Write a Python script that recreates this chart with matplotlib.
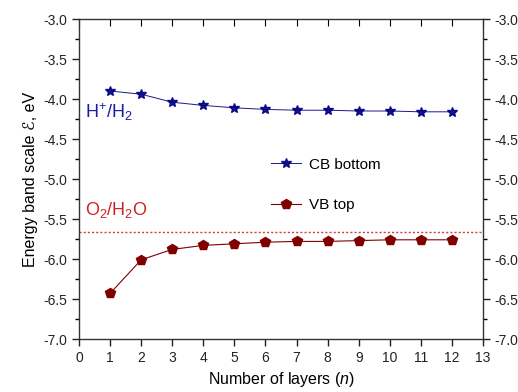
import numpy as np
import matplotlib
matplotlib.use('Agg')
import matplotlib.pyplot as plt

plt.rcParams['font.family'] = ['Liberation Sans', 'DejaVu Sans']
plt.rcParams['mathtext.fontset'] = 'custom'
plt.rcParams['mathtext.rm'] = 'Liberation Sans'
plt.rcParams['mathtext.it'] = 'Liberation Sans:italic'

# data
layers = [1, 2, 3, 4, 5, 6, 7, 8, 9, 10, 11, 12]
cb_bottom = [-3.90, -3.94, -4.04, -4.08, -4.11, -4.13, -4.14, -4.14, -4.15, -4.15, -4.16, -4.16]
vb_top = [-6.43, -6.01, -5.88, -5.83, -5.81, -5.79, -5.78, -5.78, -5.77, -5.76, -5.76, -5.76]
o2_level = -5.66

fig = plt.figure(figsize=(5.18, 3.92), dpi=100)
ax = fig.add_axes([0.1525, 0.1352, 0.78, 0.8163])

ax.plot(layers, cb_bottom, color='#000080', lw=0.7, marker='*', ms=7, alpha=0.9,
        label='CB bottom')
ax.plot(layers, vb_top, color='#800000', lw=0.8, marker='p', ms=7,
        label='VB top')
ax.axhline(o2_level, color='#d04040', lw=1.0, ls=(0, (1.5, 1.5)))

ax.text(0.2, -4.17, r'H$^{+}$/H$_{2}$', color='#1a1aa8', fontsize=13, va='center')
ax.text(0.2, -5.39, r'O$_{2}$/H$_{2}$O', color='#cc2222', fontsize=13, va='center')

ax.set_xlim(0, 13)
ax.set_ylim(-7.0, -3.0)
ax.set_xticks(np.arange(0, 14, 1))
ax.set_yticks(np.arange(-7.0, -2.9, 0.5))
ax.set_yticks(np.arange(-7.0, -2.9, 0.25), minor=True)
ax.yaxis.set_major_formatter(matplotlib.ticker.FormatStrFormatter('%.1f'))

ax.tick_params(axis='both', which='major', length=5, width=1, labelsize=10, colors='#222222')
ax.tick_params(axis='y', which='minor', length=3, width=1)
ax.tick_params(axis='y', which='both', right=True, labelright=True, direction='out')
ax.tick_params(axis='x', which='both', top=False, direction='out')

# top ticks point inward
ax2 = ax.secondary_xaxis('top')
ax2.set_xticks(np.arange(0, 14, 1))
ax2.tick_params(direction='in', length=5, labeltop=False)

for s in ax.spines.values():
    s.set_linewidth(1.0)
    s.set_color('#333333')
ax2.spines['top'].set_visible(False)

ax.set_xlabel(r'Number of layers ($\it{n}$)', fontsize=11.5)
ax.set_ylabel('Energy band scale ℰ, eV', fontsize=11.5)

ax.legend(loc='upper left', bbox_to_anchor=(0.44, 0.61), frameon=False, fontsize=11,
          handlelength=2.0, handletextpad=0.5, labelspacing=1.75)

plt.savefig('out.png', dpi=100)
